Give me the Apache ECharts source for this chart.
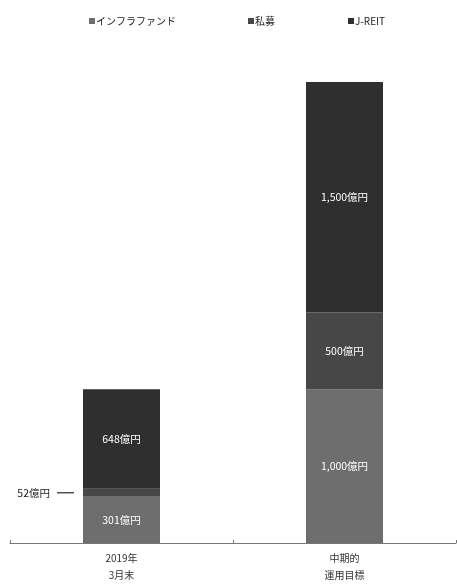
<!DOCTYPE html>
<html><head><meta charset="utf-8">
<script src="https://cdn.jsdelivr.net/npm/echarts@6/dist/echarts.min.js"></script>
<style>html,body{margin:0;padding:0;background:#fff}#c{width:457px;height:588px}</style>
</head><body><div id="c"></div>
<script>
var categories = ['2019年\n3月末', '中期的\n運用目標'];
var seriesNames = ['インフラファンド', '私募', 'J-REIT'];
var infra = [301, 1000];
var shibo = [52, 500];
var jreit = [648, 1500];
var labelTexts = [['301億円', '1,000億円'], ['52億円', '500億円'], ['648億円', '1,500億円']];

var colors = ['#6e6e6e', '#474747', '#2f2f2f'];
var font = '"Noto Sans CJK JP", sans-serif';
var chart = echarts.init(document.getElementById('c'), null, {renderer: 'canvas'});
function mk(i, data) {
  return {
    name: seriesNames[i], type: 'bar', stack: 'a', barWidth: 77,
    itemStyle: {color: colors[i]},
    data: data.map(function (v, j) {
      var d = {value: v};
      if (i === 1 && j === 0) {
        d.label = {show: true, position: 'left', distance: 9, color: '#222',
          formatter: '{t|' + labelTexts[i][j] + '}{s|}{d|}',
          rich: {t: {fontFamily: font, fontSize: 10.5, color: '#222'},
                 s: {width: 7, height: 0},
                 d: {width: 17, height: 0, borderColor: '#444', borderWidth: 0.5, backgroundColor: '#444', padding: [0, 0, 0, 0]}}};
      } else {
        d.label = {show: true, position: 'inside', color: '#fff',
          formatter: labelTexts[i][j]};
      }
      return d;
    }),
    label: {fontFamily: font, fontSize: 10.5}
  };
}
var legendLefts = [84, 243, 343];
chart.setOption({
  animation: false,
  legend: seriesNames.map(function (n, i) {
    return {data: [n], left: legendLefts[i], top: 11, icon: 'rect', itemWidth: 6, itemHeight: 6, itemGap: 0,
      textStyle: {fontFamily: font, fontSize: 10, color: '#222', padding: [0, 0, 0, -4]}};
  }),
  grid: {left: 10, right: 1, top: 82, bottom: 45, containLabel: false},
  xAxis: {type: 'category', data: categories,
    axisLine: {lineStyle: {color: '#777', width: 1}},
    axisTick: {show: true, inside: true, length: 3, lineStyle: {color: '#777'}},
    axisLabel: {fontFamily: font, fontSize: 10, color: '#333', lineHeight: 17, margin: 7}},
  yAxis: {type: 'value', min: 0, max: 3000, show: false, splitLine: {show: false}},
  series: [mk(0, infra), mk(1, shibo), mk(2, jreit)]
});
</script></body></html>
